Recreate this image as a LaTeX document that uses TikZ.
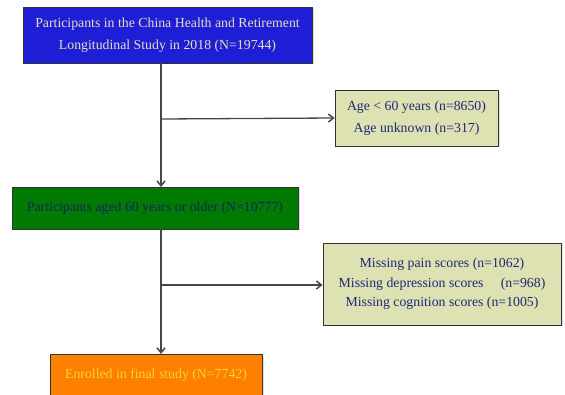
\documentclass[tikz,border=0pt]{standalone}
\usepackage{fontspec}
\setmainfont{Liberation Serif}
\usetikzlibrary{arrows.meta,shadows}
\definecolor{topblue}{RGB}{30,30,214}
\definecolor{toptext}{RGB}{226,226,190}
\definecolor{sidefill}{RGB}{222,226,178}
\definecolor{sidetext}{RGB}{30,40,120}
\definecolor{greenfill}{RGB}{0,122,0}
\definecolor{greentext}{RGB}{20,40,90}
\definecolor{orangefill}{RGB}{255,128,0}
\definecolor{orangetext}{RGB}{255,214,40}
\definecolor{linegray}{RGB}{70,70,70}
\begin{document}
\begin{tikzpicture}[x=1pt,y=-1pt,
  boxstyle/.style={draw=black!80,line width=0.8pt,inner sep=0pt,align=center,font=\fontsize{13.8}{22}\selectfont,
    drop shadow={shadow xshift=1.5pt,shadow yshift=-1.5pt,opacity=0.25}},
  conn/.style={draw=linegray,line width=1.3pt},
  arr/.style={conn,-{Straight Barb[length=5pt,width=8pt,line width=1.5pt]}}]
\useasboundingbox (0,0) rectangle (565,395);
\node[boxstyle,fill=topblue,text=toptext,minimum width=289pt,minimum height=56pt] (top) at (167.5,35) {Participants in the China Health and Retirement\\Longitudinal Study in 2018 (N=19744)};
\node[boxstyle,fill=sidefill,text=sidetext,minimum width=163pt,minimum height=56pt] (ex1) at (416.5,118) {Age {\textless} 60 years (n=8650)\\Age unknown (n=317)};
\node[boxstyle,fill=greenfill,text=greentext,minimum width=286pt,minimum height=42pt] (mid) at (155,208) {Participants aged 60 years or older (N=10777)};
\node[boxstyle,fill=sidefill,text=sidetext,minimum width=238pt,minimum height=82pt,font=\fontsize{13.8}{19.5}\selectfont] (ex2) at (442,284) {Missing pain scores (n=1062)\\Missing depression scores\quad\ (n=968)\\Missing cognition scores (n=1005)};
\node[boxstyle,fill=orangefill,text=orangetext,minimum width=212pt,minimum height=42pt,anchor=north] (fin) at (156,354) {Enrolled in final study (N=7742)};
\coordinate (j1) at (161,119);
\coordinate (j2) at (161,285);
\draw[arr] (161,63) -- (161,187);
\draw[arr] (j1) -- (ex1.west);
\draw[arr] (161,229) -- (161,354);
\draw[arr] (j2) -- (ex2.west|-j2);
\end{tikzpicture}
\end{document}
